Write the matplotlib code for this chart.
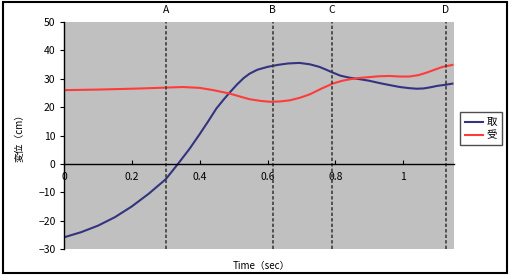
import matplotlib
matplotlib.use("Agg")
import matplotlib.pyplot as plt
from matplotlib.patches import Rectangle
import numpy as np

plt.rcParams['font.family'] = ['Noto Sans CJK JP', 'DejaVu Sans']

# Data
t_tori = [0.0, 0.05, 0.1, 0.15, 0.2, 0.25, 0.3, 0.336, 0.37, 0.4, 0.425, 0.449, 0.47,
          0.488, 0.51, 0.53, 0.547, 0.57, 0.6, 0.63, 0.66, 0.694, 0.725, 0.753, 0.775,
          0.792, 0.815, 0.841, 0.87, 0.9, 0.93, 0.959, 0.99, 1.018, 1.04, 1.06, 1.08,
          1.1, 1.125, 1.145]
v_tori = [-25.9, -24.1, -21.8, -18.8, -15.0, -10.5, -5.4, 0.0, 5.3, 10.5, 15.0, 19.5, 22.6,
          25.1, 28.0, 30.3, 31.8, 33.2, 34.2, 34.9, 35.4, 35.6, 35.1, 34.2, 33.1,
          32.2, 31.1, 30.4, 29.9, 29.3, 28.5, 27.8, 27.1, 26.7, 26.5, 26.6, 27.0,
          27.5, 27.9, 28.3]
t_uke = [0.0, 0.1, 0.2, 0.253, 0.3, 0.35, 0.4, 0.44, 0.488, 0.52, 0.547, 0.58, 0.606,
         0.635, 0.665, 0.695, 0.724, 0.76, 0.792, 0.82, 0.841, 0.87, 0.9, 0.93, 0.959,
         0.99, 1.018, 1.045, 1.067, 1.09, 1.116, 1.145]
v_uke = [26.0, 26.2, 26.5, 26.7, 26.9, 27.1, 26.8, 26.0, 24.8, 23.7, 22.8, 22.2, 21.9,
         22.0, 22.4, 23.3, 24.5, 26.6, 28.3, 29.3, 29.8, 30.3, 30.6, 30.9, 31.0,
         30.8, 30.8, 31.3, 32.1, 33.1, 34.2, 34.9]
events = [0.30, 0.615, 0.79, 1.125]
event_labels = ['A', 'B', 'C', 'D']
series_names = ['取', '受']
xticks = [0, 0.2, 0.4, 0.6, 0.8, 1]
xticklabels = ['0', '0.2', '0.4', '0.6', '0.8', '1']
yticks = [-30, -20, -10, 0, 10, 20, 30, 40, 50]

fig = plt.figure(figsize=(5.12, 2.76), dpi=100)
ax = fig.add_axes([0.125, 0.098, 0.762, 0.822])
ax.set_facecolor('#c0c0c0')

ax.plot(t_tori, v_tori, color='#333380', lw=1.5, label=series_names[0],
        solid_joinstyle='round')
ax.plot(t_uke, v_uke, color='#ff3b3b', lw=1.5, label=series_names[1],
        solid_joinstyle='round')

for x, lab in zip(events, event_labels):
    ax.axvline(x, color='#333333', lw=1.1, ls=(0, (2.2, 1.4)), clip_on=False)
    ax.text(x, 52.5, lab, ha='center', va='bottom', fontsize=7.5, color='black')

ax.set_xlim(0, 1.15)
ax.set_ylim(-30, 50)
ax.set_yticks(yticks)
ax.set_yticklabels([str(v).replace('-', '−') for v in yticks])
ax.set_xticks(xticks)
ax.set_xticklabels(xticklabels)

for s in ['top', 'right']:
    ax.spines[s].set_visible(False)
ax.spines['bottom'].set_position(('data', 0))
ax.spines['bottom'].set_linewidth(1.0)
ax.spines['left'].set_linewidth(1.0)
ax.tick_params(axis='x', direction='in', length=3, labelsize=7.5, pad=6)
ax.tick_params(axis='y', direction='out', length=3, labelsize=7.5, pad=3)

ax.set_ylabel('変位（cm）', fontsize=7)
ax.yaxis.set_label_coords(-0.1, 0.5)
fig.text(0.51, 0.035, 'Time（sec）', ha='center', va='center', fontsize=7)

leg = ax.legend(loc='center left', bbox_to_anchor=(1.015, 0.53), fontsize=7.5,
                frameon=True, fancybox=False, edgecolor='#222222',
                handlelength=1.8, handletextpad=0.3, borderpad=0.45,
                labelspacing=0.3, borderaxespad=0)
leg.get_frame().set_linewidth(1.0)

fig.patches.append(Rectangle((0.005, 0.01), 0.985, 0.982, transform=fig.transFigure,
                             fill=False, edgecolor='black', lw=1.5))

fig.savefig('out.png', dpi=100)
